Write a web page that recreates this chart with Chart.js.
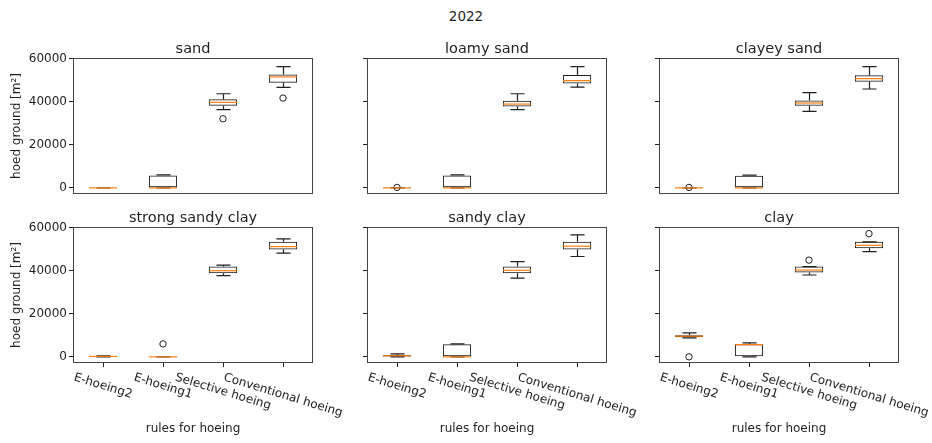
<!DOCTYPE html>
<html>
<head>
<meta charset="utf-8">
<script src="https://cdn.jsdelivr.net/npm/chart.js@4"></script>
<style>
html, body { margin: 0; padding: 0; background: #fff; width: 932px; height: 443px; overflow: hidden; position: relative; font-family: "DejaVu Sans", sans-serif; }
#sup { position: absolute; left: 0; width: 932px; top: 8px; text-align: center; font-size: 13.5px; color: #1f1f1f; }
canvas { position: absolute; }
</style>
</head>
<body>
<div id="sup">2022</div>
<script>
// one panel per soil type, boxes per hoeing rule
const soils = ['sand', 'loamy sand', 'clayey sand', 'strong sandy clay', 'sandy clay', 'clay'];
const rules = ['E-hoeing2', 'E-hoeing1', 'Selective hoeing', 'Conventional hoeing'];
const yTicks = [0, 20000, 40000, 60000];

const whiskerLow = [
  [0, 0, 36300, 46700],
  [0, 0, 36300, 46800],
  [0, 0, 35500, 45900],
  [0, 0, 37700, 48200],
  [0, 0, 36600, 46600],
  [8800, 0, 38000, 48900]
];
const q1 = [
  [0, 0, 38100, 48800],
  [0, 0, 37800, 48500],
  [0, 0, 38100, 49300],
  [0, 0, 38800, 49800],
  [150, 0, 38800, 49800],
  [9100, 0, 39200, 50400]
];
const median = [
  [0, 0, 39700, 51500],
  [0, 0, 38900, 49800],
  [0, 0, 39400, 50700],
  [200, 0, 40000, 51200],
  [500, 0, 40200, 51400],
  [9600, 5700, 40300, 51800]
];
const q3 = [
  [0, 5700, 41100, 52600],
  [0, 5700, 40500, 52400],
  [0, 5600, 40600, 52300],
  [400, 0, 41900, 53500],
  [900, 5800, 41900, 53400],
  [10000, 5800, 41900, 53400]
];
const whiskerHigh = [
  [0, 6000, 43700, 56300],
  [0, 6000, 43700, 56300],
  [0, 5900, 44200, 56300],
  [500, 0, 42600, 54800],
  [1400, 6000, 44200, 56600],
  [11100, 6500, 41900, 53400]
];
const outliers = [
  [[], [], [32100], [41700]],
  [[200], [], [], []],
  [[200], [], [], []],
  [[], [6000], [], []],
  [[], [], [], []],
  [[0], [], [44900], [57200]]
];

const yMin = -2860, yMax = 60300;
const colLeft = [73, 367, 659];
const rowTop = [58, 227];
const plotW = 240, plotH = 136;
const FONT = '"DejaVu Sans", sans-serif';
const INK = '#1f1f1f';
const ORANGE = '#ff7f0e';

function boxPlugin(p, row, col) {
  return {
    id: 'boxPlot' + p,
    afterDatasetsDraw(chart) {
      const y = chart.scales.y;
      const ctx = chart.ctx;
      const bars = chart.getDatasetMeta(0).data;
      ctx.save();
      ctx.lineWidth = 1.2;
      bars.forEach((bar, i) => {
        const x = Math.round(bar.x) + 0.5;
        const half = bar.width / 2;
        const cap = half / 2;
        const yLo = y.getPixelForValue(whiskerLow[p][i]);
        const yQ1 = y.getPixelForValue(q1[p][i]);
        const yMed = y.getPixelForValue(median[p][i]);
        const yQ3 = y.getPixelForValue(q3[p][i]);
        const yHi = y.getPixelForValue(whiskerHigh[p][i]);
        ctx.strokeStyle = INK;
        ctx.beginPath();
        ctx.moveTo(x, yQ1); ctx.lineTo(x, yLo);
        ctx.moveTo(x, yQ3); ctx.lineTo(x, yHi);
        ctx.moveTo(x - cap, yLo); ctx.lineTo(x + cap, yLo);
        ctx.moveTo(x - cap, yHi); ctx.lineTo(x + cap, yHi);
        ctx.stroke();
        ctx.strokeStyle = ORANGE;
        ctx.beginPath();
        ctx.moveTo(bar.x - half, yMed); ctx.lineTo(bar.x + half, yMed);
        ctx.stroke();
      });
      ctx.restore();
    },
    afterDraw(chart) {
      const ctx = chart.ctx;
      const a = chart.chartArea;
      ctx.save();
      // axes frame
      ctx.strokeStyle = '#444';
      ctx.lineWidth = 1;
      ctx.strokeRect(Math.round(a.left) + 0.5, Math.round(a.top) + 0.5, Math.round(a.right - a.left) - 1, Math.round(a.bottom - a.top) - 1);

      ctx.fillStyle = INK;
      ctx.font = '14.5px ' + FONT;
      ctx.textAlign = 'center';
      ctx.textBaseline = 'alphabetic';
      ctx.fillText(soils[p], (a.left + a.right) / 2, a.top - 5);

      if (col === 0) {
        ctx.save();
        ctx.font = '12px ' + FONT;
        ctx.translate(17, (a.top + a.bottom) / 2);
        ctx.rotate(-Math.PI / 2);
        ctx.textBaseline = 'middle';
        ctx.fillText('hoed ground [m²]', 0, 0);
        ctx.restore();
      }

      if (row === 1) {
        ctx.font = '12px ' + FONT;
        const ang = 17 * Math.PI / 180;
        rules.forEach((r, i) => {
          const tx = chart.scales.x.getPixelForValue(i);
          const w = ctx.measureText(r).width;
          const h = 13;
          const H = w * Math.sin(ang) + h * Math.cos(ang);
          ctx.save();
          ctx.translate(tx, a.bottom + 8 + H / 2);
          ctx.rotate(ang);
          ctx.textAlign = 'center';
          ctx.textBaseline = 'middle';
          ctx.fillText(r, 0, 0);
          ctx.restore();
        });
        ctx.textAlign = 'center';
        ctx.textBaseline = 'alphabetic';
        ctx.fillText('rules for hoeing', (a.left + a.right) / 2, a.bottom + 69);
      }
      ctx.restore();
    }
  };
}

soils.forEach((soil, p) => {
  const row = Math.floor(p / 3);
  const col = p % 3;
  const bottomSpace = row === 1 ? 80 : 12;
  const cv = document.createElement('canvas');
  cv.width = 73 + plotW + 32;
  cv.height = 40 + plotH + bottomSpace;
  cv.style.left = (colLeft[col] - 73) + 'px';
  cv.style.top = (rowTop[row] - 40) + 'px';
  document.body.appendChild(cv);

  const flierPts = outliers[p].flatMap((vals, i) => vals.map(v => ({ x: rules[i], y: v })));

  new Chart(cv, {
    type: 'bar',
    data: {
      labels: rules,
      datasets: [
        {
          type: 'bar',
          data: rules.map((_, i) => [q1[p][i], q3[p][i]]),
          backgroundColor: 'rgba(0,0,0,0)',
          borderColor: INK,
          borderWidth: 1,
          borderSkipped: false,
          barPercentage: 0.47,
          categoryPercentage: 1,
          order: 2
        },
        {
          type: 'line',
          data: flierPts,
          showLine: false,
          pointRadius: 3.2,
          pointBorderWidth: 1,
          pointBorderColor: INK,
          pointBackgroundColor: 'rgba(0,0,0,0)',
          order: 1
        }
      ]
    },
    options: {
      responsive: false,
      animation: false,
      devicePixelRatio: 1,
      layout: { padding: { top: 40, right: 32, left: 0, bottom: 0 } },
      plugins: {
        legend: { display: false },
        tooltip: { enabled: false },
        title: { display: false }
      },
      scales: {
        x: {
          type: 'category',
          offset: true,
          grid: { display: row === 1, offset: false, drawOnChartArea: false, tickLength: 4, color: INK },
          border: { display: false },
          ticks: { display: false },
          afterFit: s => { s.height = bottomSpace; }
        },
        y: {
          type: 'linear',
          min: yMin,
          max: yMax,
          afterBuildTicks: s => { s.ticks = yTicks.map(v => ({ value: v })); },
          grid: { drawOnChartArea: false, tickLength: 4, color: INK },
          border: { display: false },
          ticks: {
            display: col === 0,
            padding: 2,
            color: INK,
            font: { family: FONT, size: 12 },
            callback: v => String(v)
          },
          afterFit: s => { s.width = 73; }
        }
      }
    },
    plugins: [boxPlugin(p, row, col)]
  });
});
</script>
</body>
</html>
